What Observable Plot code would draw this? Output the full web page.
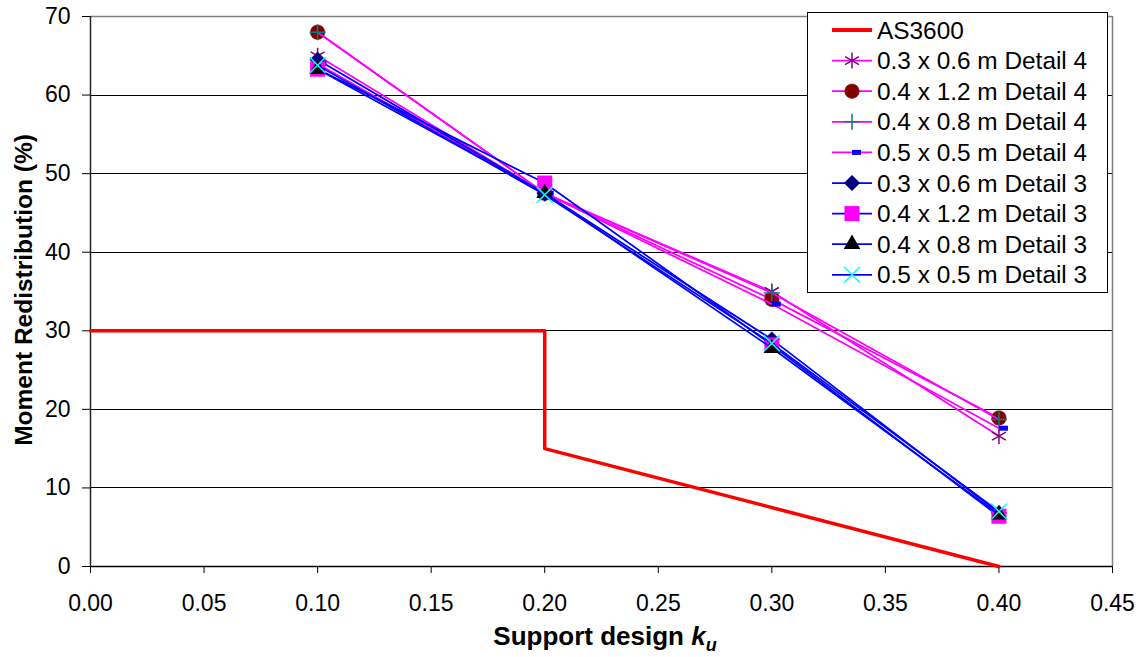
<!DOCTYPE html>
<html>
<head>
<meta charset="utf-8">
<script src="https://cdn.jsdelivr.net/npm/d3@7"></script>
<script src="https://cdn.jsdelivr.net/npm/@observablehq/plot@0.6"></script>
<style>
  html, body { margin: 0; padding: 0; background: #fff; }
  #chart svg { display: block; }
</style>
</head>
<body>
<div id="chart"></div>
<script>
// ---- data ----
const ku = [0.1, 0.2, 0.3, 0.4];
const as3600X = [0, 0.2, 0.2, 0.4];
const as3600Y = [30, 30, 15, 0];

const seriesNames = [
  "0.3 x 0.6 m Detail 4",
  "0.4 x 1.2 m Detail 4",
  "0.4 x 0.8 m Detail 4",
  "0.5 x 0.5 m Detail 4",
  "0.3 x 0.6 m Detail 3",
  "0.4 x 1.2 m Detail 3",
  "0.4 x 0.8 m Detail 3",
  "0.5 x 0.5 m Detail 3"
];
const d4_03x06 = [65.0, 47.5, 35.0, 16.6];
const d4_04x12 = [68.0, 47.5, 34.0, 18.9];
const d4_04x08 = [68.0, 47.5, 34.8, 18.7];
const d4_05x05 = [64.0, 47.5, 33.4, 17.6];
const d3_03x06 = [64.5, 47.5, 28.9, 6.8];
const d3_04x12 = [63.3, 48.8, 28.2, 6.4];
const d3_04x08 = [63.3, 47.5, 27.8, 6.6];
const d3_05x05 = [63.8, 47.3, 28.4, 7.0];
const seriesValues = [d4_03x06, d4_04x12, d4_04x08, d4_05x05, d3_03x06, d3_04x12, d3_04x08, d3_05x05];

const xTicks = [0, 0.05, 0.1, 0.15, 0.2, 0.25, 0.3, 0.35, 0.4, 0.45];
const yTicks = [0, 10, 20, 30, 40, 50, 60, 70];

// ---- styles ----
const dashSymbol = {
  draw(context, size) {
    context.rect(0, -2.5, 9, 5);
  }
};
const styles = [
  {line: "#FF00FF", symbol: "asterisk", r: 7.6, fill: "none", stroke: "#800080", sw: 1.5},
  {line: "#FF00FF", symbol: "circle", r: 7.3, fill: "#800000", stroke: "#800000", sw: 0.5},
  {line: "#FF00FF", symbol: "plus", r: 5.2, fill: "none", stroke: "#008080", sw: 1.5},
  {line: "#FF00FF", symbol: dashSymbol, r: 5, fill: "#0000FF", stroke: "none", sw: 0},
  {line: "#0000FF", symbol: "diamond2", r: 7, fill: "#000080", stroke: "#000080", sw: 0.5},
  {line: "#0000FF", symbol: "square", r: 8.5, fill: "#FF00FF", stroke: "none", sw: 0},
  {line: "#0000FF", symbol: "triangle", r: 6.2, fill: "#000000", stroke: "none", sw: 0},
  {line: "#0000FF", symbol: "times", r: 7.3, fill: "none", stroke: "#00FFFF", sw: 1.5}
];

const as3600 = as3600X.map((x, i) => ({x, y: as3600Y[i]}));
const seriesData = seriesValues.map(vals => vals.map((y, i) => ({x: ku[i], y})));

const FONT = "'Liberation Sans', Arial, Helvetica, sans-serif";

const seriesMarks = [];
seriesData.forEach((data, i) => {
  const s = styles[i];
  seriesMarks.push(Plot.line(data, {x: "x", y: "y", stroke: s.line, strokeWidth: 1.75}));
  seriesMarks.push(Plot.dot(data, {x: "x", y: "y", symbol: () => s.symbol, r: s.r, fill: s.fill, stroke: s.stroke, strokeWidth: s.sw}));
});

const svg = Plot.plot({
  width: 1146,
  height: 657,
  marginLeft: 90,
  marginRight: 34,
  marginTop: 16,
  marginBottom: 91,
  style: {fontFamily: FONT, fontSize: "23px", background: "#fff", color: "#000", overflow: "visible"},
  x: {domain: [0, 0.45], label: null},
  y: {domain: [0, 70], label: null},
  marks: [
    Plot.gridY(yTicks.filter(v => v > 0 && v < 70), {stroke: "#000", strokeOpacity: 1, strokeWidth: 1, shapeRendering: "crispEdges"}),
    Plot.ruleY([70], {stroke: "#808080", strokeWidth: 1.5}),
    Plot.ruleX([0.45], {stroke: "#808080", strokeWidth: 1.5}),
    Plot.axisX({ticks: xTicks, tickFormat: d3.format(".2f"), tickSize: 7, tickPadding: 21, label: null, fontSize: 23}),
    Plot.axisY({ticks: yTicks, tickSize: 8, tickPadding: 12, label: null, fontSize: 23}),
    Plot.ruleY([0], {stroke: "#000", strokeWidth: 1.5}),
    Plot.ruleX([0], {stroke: "#222", strokeWidth: 1.5}),
    Plot.line(as3600, {x: "x", y: "y", stroke: "#FF0000", strokeWidth: 3.5}),
    ...seriesMarks
  ]
});

document.getElementById("chart").appendChild(svg);

// ---- axis titles ----
const root = d3.select(svg);
root.append("text")
  .attr("transform", "translate(32,290) rotate(-90)")
  .attr("text-anchor", "middle")
  .attr("font-family", FONT)
  .attr("font-size", 24.5)
  .attr("font-weight", "bold")
  .attr("fill", "#000")
  .text("Moment Redistribution (%)");

const xt = root.append("text")
  .attr("x", 605)
  .attr("y", 645)
  .attr("text-anchor", "middle")
  .attr("font-family", FONT)
  .attr("font-size", 26)
  .attr("font-weight", "bold")
  .attr("fill", "#000");
xt.append("tspan").text("Support design ");
xt.append("tspan").attr("font-style", "italic").text("k");
xt.append("tspan").attr("font-style", "italic").attr("font-size", 18).attr("dy", 6).text("u");

// ---- legend ----
const lg = root.append("g").attr("font-family", FONT).attr("font-size", 24.4).attr("text-anchor", "start");
lg.append("rect").attr("x", 807.5).attr("y", 12.5).attr("width", 300).attr("height", 280)
  .attr("fill", "#fff").attr("stroke", "#000").attr("stroke-width", 1);
const legendNames = ["AS3600", ...seriesNames];
const symMap = {
  asterisk: d3.symbolAsterisk, circle: d3.symbolCircle, plus: d3.symbolPlus,
  diamond2: d3.symbolDiamond2, square: d3.symbolSquare, triangle: d3.symbolTriangle, times: d3.symbolTimes
};
legendNames.forEach((name, i) => {
  const cy = 30 + i * 30.6;
  if (i === 0) {
    lg.append("line").attr("x1", 832).attr("x2", 872).attr("y1", cy).attr("y2", cy)
      .attr("stroke", "#FF0000").attr("stroke-width", 4);
  } else {
    const s = styles[i - 1];
    lg.append("line").attr("x1", 832).attr("x2", 872).attr("y1", cy).attr("y2", cy)
      .attr("stroke", s.line).attr("stroke-width", 1.75);
    const type = typeof s.symbol === "string" ? symMap[s.symbol] : s.symbol;
    lg.append("path")
      .attr("transform", `translate(852,${cy})`)
      .attr("d", d3.symbol(type, Math.PI * s.r * s.r)())
      .attr("fill", s.fill).attr("stroke", s.stroke).attr("stroke-width", s.sw);
  }
  lg.append("text").attr("x", 877).attr("y", cy).attr("dy", "0.35em").attr("text-anchor", "start").attr("fill", "#000").text(name);
});
</script>
</body>
</html>
